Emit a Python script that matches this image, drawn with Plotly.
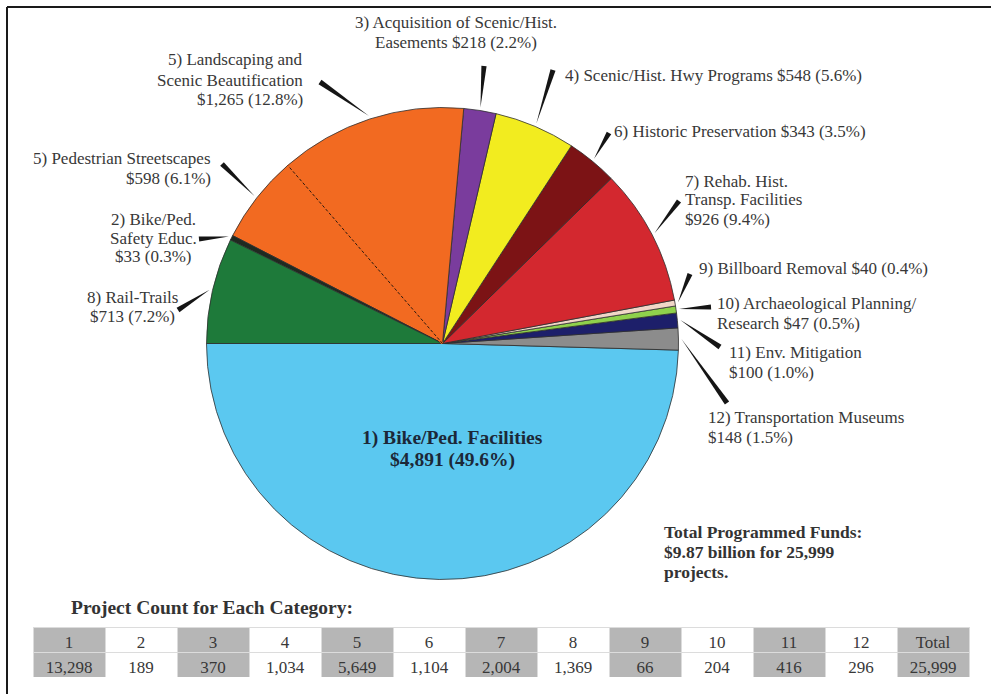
import math
import plotly.graph_objects as go

W, H = 991, 694

# Programmed funds by category ($ millions), in drawing order
categories = [
    "1) Bike/Ped. Facilities",
    "12) Transportation Museums",
    "11) Env. Mitigation",
    "10) Archaeological Planning/Research",
    "9) Billboard Removal",
    "7) Rehab. Hist. Transp. Facilities",
    "6) Historic Preservation",
    "4) Scenic/Hist. Hwy Programs",
    "3) Acquisition of Scenic/Hist. Easements",
    "5) Landscaping and Scenic Beautification",
    "5) Pedestrian Streetscapes",
    "2) Bike/Ped. Safety Educ.",
    "8) Rail-Trails",
]
funds = [4891, 148, 100, 47, 40, 926, 343, 548, 218, 1265, 598, 33, 713]
slice_colors = [
    "#5bc8f0", "#8c8c8c", "#1d1f6a", "#8fd14c", "#f1d6c8", "#d3282f",
    "#7c1315", "#f2ec1f", "#7a3c9d", "#f26a21", "#f26a21", "#1f2a20", "#1e7a3a",
]

# Project counts table
count_labels = ["1", "2", "3", "4", "5", "6", "7", "8", "9", "10", "11", "12"]
project_counts = [13298, 189, 370, 1034, 5649, 1104, 2004, 1369, 66, 204, 416, 296]

total_funds = sum(funds)
total_projects = sum(project_counts)
pcts = [v / total_funds * 100 for v in funds]

FONT = "Liberation Serif, Times New Roman, serif"
TXT = "#383838"

# pie geometry (pixels)
CX, CY, R = 442.5, 343.5, 236.0


def px(x):
    return x / W


def py(y):
    return 1 - y / H


# big slice ends exactly at 9 o'clock; others run counterclockwise from ~3 o'clock
rotation = 270 - 360 * funds[0] / total_funds

fig = go.Figure()
fig.add_trace(go.Pie(
    values=funds,
    labels=categories,
    sort=False,
    direction="counterclockwise",
    rotation=rotation,
    textinfo="none",
    hoverinfo="label+value+percent",
    marker=dict(colors=slice_colors, line=dict(color="#2e2e2e", width=0.8)),
    domain=dict(x=[px(CX - R), px(CX + R)], y=[py(CY + R), py(CY - R)]),
    showlegend=False,
))


def rim_point(theta_deg, r):
    # theta measured clockwise from 12 o'clock
    t = math.radians(theta_deg)
    return CX + r * math.sin(t), CY - r * math.cos(t)


# slice boundary / mid angles (clockwise-from-top degrees)
start_angles, mid_angles = [], []
cum = 0.0
for i, v in enumerate(funds):
    if i == 0:
        start_angles.append(rotation)
        mid_angles.append(rotation + 180 * v / total_funds)
        continue
    a = 360 * v / total_funds
    start_angles.append(rotation - cum)
    mid_angles.append(rotation - cum - a / 2)
    cum += a


def amount(i):
    return f"${funds[i]:,} ({pcts[i]:.1f}%)"


annotations = []
shapes = []


def add_lines(lines, x, y0, step, anchor, size, color=TXT, bold=False):
    """Place each text line as its own annotation for tight line spacing."""
    for k, line in enumerate(lines):
        txt = f"<b>{line}</b>" if bold else line
        annotations.append(dict(
            text=txt, x=px(x), y=py(y0 + k * step), xref="paper", yref="paper",
            xanchor=anchor, yanchor="middle", align=anchor, showarrow=False,
            font=dict(family=FONT, size=size, color=color),
        ))


# label lines, anchor position and leader base for each outer label
outer_labels = [
    (1, ["12) Transportation Museums", "{a}"], 706, 417, 20, "left", (727, 403)),
    (2, ["11) Env. Mitigation", "{a}"], 727, 352, 20, "left", (720, 347)),
    (3, ["10) Archaeological Planning/", "Research {a}"], 715, 303, 20, "left", (711, 307)),
    (4, ["9) Billboard Removal {a}"], 697, 268, 20, "left", (690, 274)),
    (5, ["7) Rehab. Hist.", "Transp. Facilities", "{a}"], 683, 181, 19, "left", (679, 201)),
    (6, ["6) Historic Preservation {a}"], 612, 131, 20, "left", (609, 133)),
    (7, ["4) Scenic/Hist. Hwy Programs {a}"], 563, 75, 20, "left", (553, 70)),
    (8, ["3) Acquisition of Scenic/Hist.", "Easements {a}"], 456, 22, 21, "center", (484, 66)),
    (9, ["5) Landscaping and", "Scenic Beautification", "{a}"], 305, 60, 20, "right", (320, 82)),
    (10, ["5) Pedestrian Streetscapes", "{a}"], 213, 158, 20, "right", (222, 164)),
    (11, ["2) Bike/Ped.", "Safety Educ.", "{a}"], 153, 219, 19, "center", (199, 239)),
    (12, ["8) Rail-Trails", "{a}"], 132, 297, 19, "center", (178, 310)),
]

for idx, lines, x, y, step, anchor, base in outer_labels:
    add_lines([ln.format(a=amount(idx)) for ln in lines], x, y, step, anchor, 17)
    # tapered leader wedge from label toward slice
    tx, ty = rim_point(mid_angles[idx], R + 3)
    bx, by = base
    dx, dy = tx - bx, ty - by
    L = math.hypot(dx, dy)
    nx, ny = -dy / L * 2.6, dx / L * 2.6
    pts = [(bx + nx, by + ny), (tx, ty), (bx - nx, by - ny)]
    path = "M " + " L ".join(f"{px(a):.5f},{py(b):.5f}" for a, b in pts) + " Z"
    shapes.append(dict(type="path", path=path, xref="paper", yref="paper",
                       fillcolor="#151515", line=dict(width=0)))

# dashed divider between the two category-5 slices
bx, by = rim_point(start_angles[10], R)
shapes.append(dict(type="line", xref="paper", yref="paper",
                   x0=px(CX), y0=py(CY), x1=px(bx), y1=py(by),
                   line=dict(color="#f26a21", width=2.2)))
shapes.append(dict(type="line", xref="paper", yref="paper",
                   x0=px(CX), y0=py(CY), x1=px(bx), y1=py(by),
                   line=dict(color="#2a1a10", width=1, dash="3px,2px")))

# frame
shapes.append(dict(type="line", xref="paper", yref="paper",
                   x0=px(7), y0=py(7), x1=1.02, y1=py(7),
                   line=dict(color="#1a1a1a", width=2)))
shapes.append(dict(type="line", xref="paper", yref="paper",
                   x0=px(7), y0=py(7), x1=px(7), y1=-0.02,
                   line=dict(color="#1a1a1a", width=2)))

# label inside the largest slice
add_lines([categories[0], amount(0)], 452, 438, 22, "center", 19.5, "#1c2838", bold=True)

add_lines(["Total Programmed Funds:",
           f"${total_funds / 1000:.2f} billion for {total_projects:,}",
           "projects."], 662, 532, 20, "left", 17.5, "#333333", bold=True)

add_lines(["Project Count for Each Category:"], 69, 607, 20, "left", 19.5, "#333333", bold=True)

# project count table
header_vals = count_labels + ["Total"]
cell_vals = [f"{c:,}" for c in project_counts] + [f"{total_projects:,}"]
col_fill = ["#b6b6b6" if i % 2 == 0 else "#ffffff" for i in range(len(header_vals))]

fig.add_trace(go.Table(
    domain=dict(x=[px(33), px(969)], y=[py(677), py(627)]),
    header=dict(
        values=header_vals, align="center", height=25,
        fill=dict(color=col_fill),
        line=dict(color="#dcdcdc", width=1),
        font=dict(family=FONT, size=17, color=TXT),
    ),
    cells=dict(
        values=[[v] for v in cell_vals], align="center", height=25,
        fill=dict(color=[[c] for c in col_fill]),
        line=dict(color="#dcdcdc", width=1),
        font=dict(family=FONT, size=17, color=TXT),
    ),
))

fig.update_layout(
    width=W, height=H,
    margin=dict(l=0, r=0, t=0, b=0),
    paper_bgcolor="white", plot_bgcolor="white",
    annotations=annotations, shapes=shapes,
)

fig.write_html("out.html")
